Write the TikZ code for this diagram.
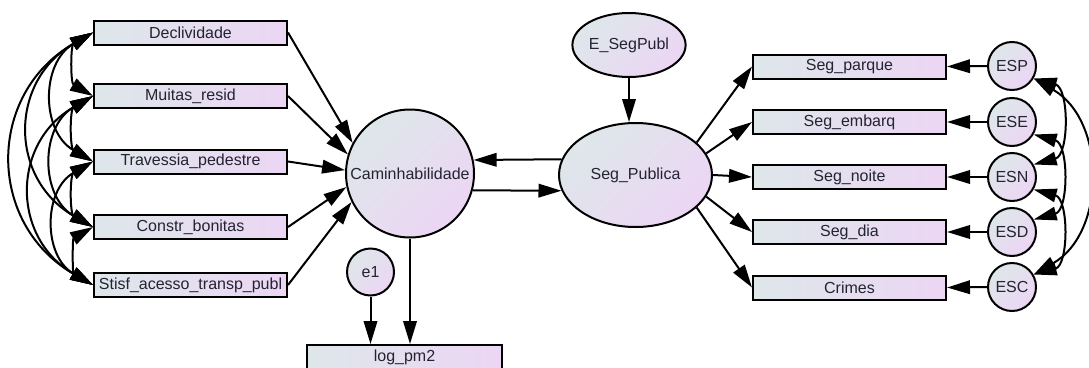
\documentclass[tikz,border=0pt]{standalone}
\usepackage{fontspec}
\setmainfont{Liberation Sans}
\usetikzlibrary{arrows.meta,shapes.geometric}

\definecolor{shadeA}{RGB}{222,231,234}
\definecolor{shadeB}{RGB}{236,214,244}
\definecolor{ink}{RGB}{35,35,50}

\tikzset{
  lbl/.style={font=\fontsize{16}{19}\selectfont, text=ink, inner sep=0pt},
  obs/.style={lbl, draw=black, line width=2pt, rectangle,
              left color=shadeA, right color=shadeB,
              minimum width=193pt, minimum height=24pt},
  lat/.style={lbl, draw=black, line width=2pt,
              left color=shadeA, right color=shadeB, shading angle=45},
  errc/.style={lat, circle, minimum size=48pt},
  path/.style={line width=2pt, -{Triangle[length=23pt,width=13.5pt]}},
  cov/.style={line width=2pt, {Triangle[length=23pt,width=13.5pt]}-{Triangle[length=23pt,width=13.5pt]}},
}

\begin{document}
\begin{tikzpicture}[x=1pt,y=-1pt]
\useasboundingbox (0,0) rectangle (1089,367);

% exogenous indicators
\node[obs] (decl) at (190.5,32.5) {Declividade};
\node[obs] (muit) at (190.5,96) {Muitas\_resid};
\node[obs] (trav) at (190.5,161.5) {Travessia\_pedestre};
\node[obs] (cons) at (190.5,227) {Constr\_bonitas};
\node[obs] (stis) at (190.5,285) {Stisf\_acesso\_transp\_publ};

% latent variables
\node[lat, circle, minimum size=128pt] (cam) at (410,173.5) {Caminhabilidade};
\node[lat, ellipse, minimum width=153pt, minimum height=104pt] (seg) at (635.5,175) {Seg\_Publica};
\node[lat, ellipse, minimum width=96pt, minimum height=64pt] (eseg) at (629,45) {E\_SegPubl};
\node[lat, circle, minimum size=47pt] (e1) at (370.5,272) {e1};

% outcome
\node[obs, minimum width=195pt] (logpm) at (404.5,357) {log\_pm2};

% safety indicators
\node[obs] (parq) at (849.5,66.5) {Seg\_parque};
\node[obs] (emb) at (849.5,122) {Seg\_embarq};
\node[obs] (noi) at (849.5,177) {Seg\_noite};
\node[obs] (dia) at (849.5,232) {Seg\_dia};
\node[obs] (cri) at (849.5,287.5) {Crimes};

% indicator errors
\node[errc] (esp) at (1012,66) {ESP};
\node[errc] (ese) at (1012,122) {ESE};
\node[errc] (esn) at (1012,177) {ESN};
\node[errc] (esd) at (1012,232) {ESD};
\node[errc] (esc) at (1012,287) {ESC};

% regressions on Caminhabilidade
\draw[path] (decl.east) -- (cam.152);
\draw[path] (muit.east) -- (cam.163);
\draw[path] (trav.east) -- (cam.177);
\draw[path] (cons.east) -- (cam.192);
\draw[path] (stis.east) -- (cam.206);

% reciprocal paths
\draw[path] (seg.168) -- (cam.12);
\draw[path] (cam.-15) -- (seg.192);

\draw[path] (eseg.south) -- (eseg.south |- seg.north);
\draw[path] (cam.south) -- (cam.south |- logpm.north);
\draw[path] (e1.south) -- (e1.south |- logpm.north);

% loadings of Seg_Publica
\draw[path] (seg.28) -- (parq.west);
\draw[path] (seg.17) -- (emb.west);
\draw[path] (seg.0) -- (noi.west);
\draw[path] (seg.-17) -- (dia.west);
\draw[path] (seg.-28) -- (cri.west);

\draw[path] (esp.west) -- (parq.east);
\draw[path] (ese.west) -- (emb.east);
\draw[path] (esn.west) -- (noi.east);
\draw[path] (esd.west) -- (dia.east);
\draw[path] (esc.west) -- (cri.east);

% covariances among exogenous indicators
\draw[cov] (decl.west) to[bend right=60, looseness=1.05] (muit.west);
\draw[cov] (muit.west) to[bend right=60, looseness=1.05] (trav.west);
\draw[cov] (trav.west) to[bend right=60, looseness=1.05] (cons.west);
\draw[cov] (cons.west) to[bend right=60, looseness=1.05] (stis.west);
\draw[cov] (decl.west) to[bend right=60, looseness=1.2] (trav.west);
\draw[cov] (muit.west) to[bend right=60, looseness=1.2] (cons.west);
\draw[cov] (trav.west) to[bend right=60, looseness=1.2] (stis.west);
\draw[cov] (decl.west) to[bend right=60, looseness=1.28] (cons.west);
\draw[cov] (muit.west) to[bend right=60, looseness=1.28] (stis.west);
\draw[cov] (decl.west) to[bend right=60, looseness=1.25] (stis.west);

% covariances among errors
\draw[cov] (esp.-30) to[bend left=75, looseness=1.1] (esn.30);
\draw[cov] (ese.-30) to[bend left=75, looseness=1.1] (esd.30);
\draw[cov] (esn.-30) to[bend left=75, looseness=1.1] (esc.30);
\draw[cov] (esp.-30) to[bend left=60, looseness=1.1] (esc.30);
\end{tikzpicture}
\end{document}
